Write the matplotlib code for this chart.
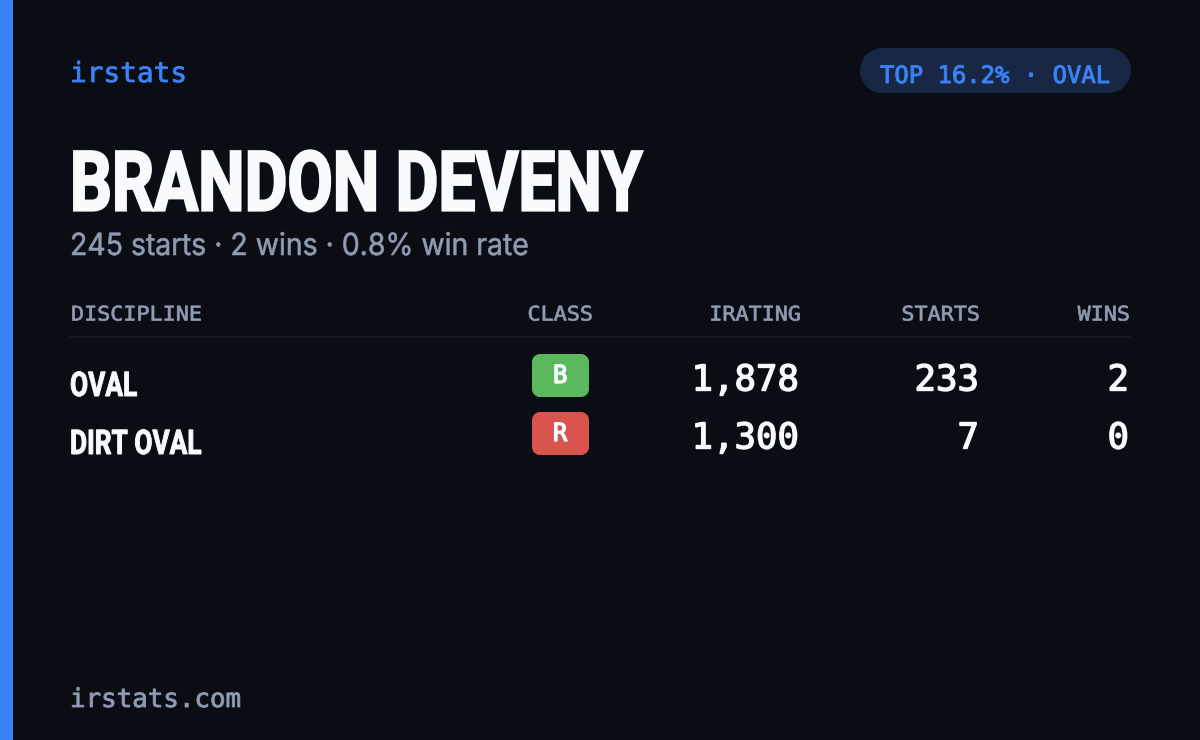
"""
Stat card for one driver, drawn on a pixel-sized axes.
"""

import matplotlib
matplotlib.use("Agg")
import matplotlib.patheffects as pe
import matplotlib.pyplot as plt
from matplotlib.patches import PathPatch, Rectangle
from matplotlib.path import Path
from matplotlib.transforms import Affine2D

BG = "#0a0d14"
ACCENT = "#3b82f6"
MUTED = "#8f9cb2"
WHITE = "#f8fafc"

brand = "irstats"
badge = "TOP 16.2% · OVAL"
driver = "BRANDON DEVENY"
summary = "245 starts · 2 wins · 0.8% win rate"
footer = "irstats.com"
headers = ["DISCIPLINE", "CLASS", "IRATING", "STARTS", "WINS"]
disciplines = ["OVAL", "DIRT OVAL"]
classes = ["B", "R"]
class_colors = ["#5cb85c", "#d9534f"]
iratings = ["1,878", "1,300"]
starts = ["233", "7"]
wins = ["2", "0"]

MONO = ["DejaVu Sans Mono"]
SANS = ["Inter", "DejaVu Sans"]
COND = ["Roboto", "DejaVu Sans"]


class Squeeze(pe.AbstractPathEffect):
    # matplotlib has no condensed face here, so narrow the glyphs and thicken the stems
    def __init__(self, sx=1.0, stroke=0.0):
        super().__init__()
        self.sx = sx
        self.stroke = stroke

    def draw_path(self, renderer, gc, tpath, affine, rgbFace=None):
        gc0 = renderer.new_gc()
        gc0.copy_properties(gc)
        gc0.set_linewidth(self.stroke)
        gc0.set_joinstyle("miter")
        if rgbFace is not None:
            gc0.set_foreground(rgbFace)
        renderer.draw_path(gc0, tpath, Affine2D().scale(self.sx, 1) + affine, rgbFace)
        gc0.restore()


def rounded_box(ax, x, y, w, h, r, color):
    k = r * 0.4477
    verts = [
        (x + r, y), (x + w - r, y),
        (x + w - k, y), (x + w, y + k), (x + w, y + r),
        (x + w, y + h - r),
        (x + w, y + h - k), (x + w - k, y + h), (x + w - r, y + h),
        (x + r, y + h),
        (x + k, y + h), (x, y + h - k), (x, y + h - r),
        (x, y + r),
        (x, y + k), (x + k, y), (x + r, y),
        (x + r, y),
    ]
    codes = [Path.MOVETO, Path.LINETO,
             Path.CURVE4, Path.CURVE4, Path.CURVE4,
             Path.LINETO,
             Path.CURVE4, Path.CURVE4, Path.CURVE4,
             Path.LINETO,
             Path.CURVE4, Path.CURVE4, Path.CURVE4,
             Path.LINETO,
             Path.CURVE4, Path.CURVE4, Path.CURVE4,
             Path.CLOSEPOLY]
    ax.add_patch(PathPatch(Path(verts, codes), fc=color, ec="none", lw=0))


def main():
    fig = plt.figure(figsize=(12, 7.4), dpi=100, facecolor=BG)
    ax = fig.add_axes([0, 0, 1, 1])
    ax.set_xlim(0, 1200)
    ax.set_ylim(740, 0)
    ax.axis("off")

    ax.add_patch(Rectangle((0, 0), 13, 740, color=ACCENT, lw=0))

    ax.text(70, 74, brand, family=MONO, fontsize=20, color=ACCENT, va="center",
            path_effects=[Squeeze(1.0, 0.6)])
    rounded_box(ax, 860, 48, 271, 45, 22.5, "#172744")
    ax.text(1110, 76, badge, family=MONO, fontsize=17.2, color=ACCENT, va="center", ha="right",
            path_effects=[Squeeze(1.0, 0.7)])

    ax.text(70, 188, driver, family=COND, fontsize=60, fontweight="bold", color=WHITE, va="center",
            path_effects=[Squeeze(0.789, 1.6)])
    ax.text(70, 247, summary, family=SANS, fontsize=22, color=MUTED, va="center",
            path_effects=[Squeeze(0.93, 0.4)])

    # table header, right-hand columns are placed from their right edge
    header_right = [None, 593, 801, 980, 1130]
    for label, right in zip(headers, header_right):
        x = 71 if right is None else right - len(label) * 13.1
        ax.text(x, 315, label, family=MONO, fontsize=14.5, color=MUTED, va="center",
                path_effects=[Squeeze(1.08, 0.5)])
    ax.plot([70, 1130], [337, 337], color="#141824", lw=1.5)

    for i, name in enumerate(disciplines):
        y = 378 + i * 58
        ax.text(70, y + 9, name, family=COND, fontsize=24.5, fontweight="bold", color=WHITE, va="center",
                path_effects=[Squeeze(0.772, 0.7)])
        rounded_box(ax, 532, y - 24, 57, 43, 8, class_colors[i])
        ax.text(560.5, y - 2, classes[i], family=MONO, fontsize=18, color=WHITE, ha="center", va="center",
                path_effects=[Squeeze(0.95, 1.0)])
        for values, right in zip([iratings, starts, wins], [799, 979, 1129]):
            ax.text(right, y + 2.5, values[i], family=MONO, fontsize=25.7, color=WHITE, ha="right", va="center",
                    path_effects=[Squeeze(1.0, 1.0)])

    ax.text(70, 700, footer, family=MONO, fontsize=18.6, color=MUTED, va="center",
            path_effects=[Squeeze(1.0, 0.6)])

    fig.savefig("out.png", dpi=100, facecolor=BG)
    plt.close(fig)


if __name__ == "__main__":
    main()
